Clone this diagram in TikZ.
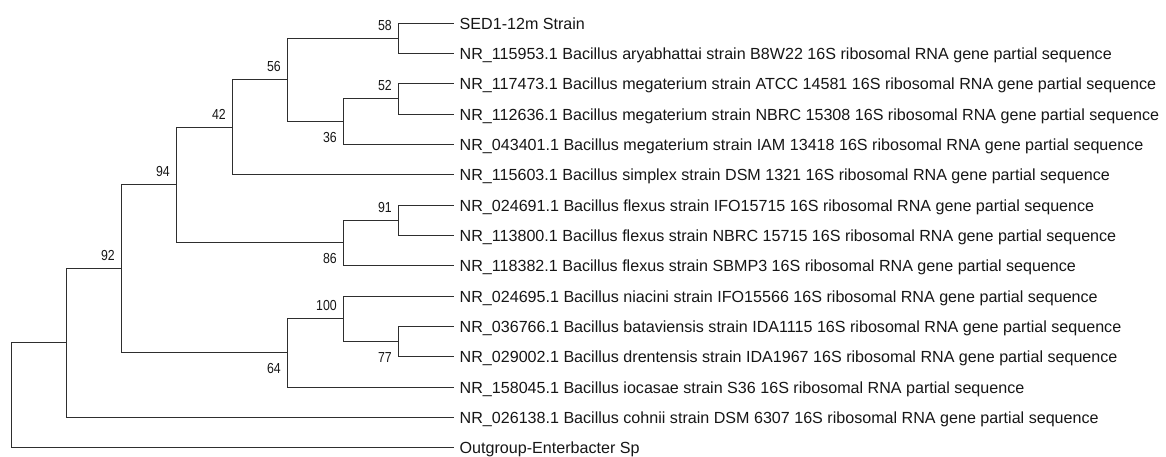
\documentclass[tikz,border=0pt]{standalone}
\usepackage{fontspec}
\setmainfont{Liberation Sans}
\newfontfamily\bootfont[FakeStretch=0.85]{Liberation Sans}
\definecolor{branchgray}{HTML}{2E2E2E}
\definecolor{textgray}{HTML}{161616}
\tikzset{
  branch/.style={draw=branchgray, line width=1.2pt},
  taxon/.style={anchor=west, inner xsep=6pt, inner ysep=0pt, text height=11.5pt,
    text depth=0pt, text=textgray, font=\fontsize{16.1}{18}\selectfont},
  boot/.style={anchor=east, inner sep=0pt, text height=10.4pt, text depth=0pt,
    text=textgray, font=\bootfont\fontsize{14.5}{16}\selectfont},
  bootup/.style={boot, shift={(-6.5,-13.3)}},
  bootdown/.style={boot, shift={(-6.5,15.6)}},
}
\begin{document}
\begin{tikzpicture}[x=1pt, y=-1pt]
    \useasboundingbox (0,0) rectangle (1166,456);
    % Tip line end and clade levels (kept on pixel centres)
    \def\lx{453.5}
    \def\xa{398.5} \def\xb{343.5} \def\xc{287.5} \def\xd{232.5}
    \def\xe{176.5} \def\xf{121.5} \def\xg{66.5}  \def\xh{11.5}
    % Taxa
    \node[taxon] (l1)  at (\lx, 23.5) {SED1-12m Strain};
    \node[taxon] (l2)  at (\lx, 53.5) {NR\_115953.1 Bacillus aryabhattai strain B8W22 16S ribosomal RNA gene partial sequence};
    \node[taxon] (l3)  at (\lx, 83.5) {NR\_117473.1 Bacillus megaterium strain ATCC 14581 16S ribosomal RNA gene partial sequence};
    \node[taxon] (l4)  at (\lx,114.5) {NR\_112636.1 Bacillus megaterium strain NBRC 15308 16S ribosomal RNA gene partial sequence};
    \node[taxon] (l5)  at (\lx,144.5) {NR\_043401.1 Bacillus megaterium strain IAM 13418 16S ribosomal RNA gene partial sequence};
    \node[taxon] (l6)  at (\lx,174.5) {NR\_115603.1 Bacillus simplex strain DSM 1321 16S ribosomal RNA gene partial sequence};
    \node[taxon] (l7)  at (\lx,205.5) {NR\_024691.1 Bacillus flexus strain IFO15715 16S ribosomal RNA gene partial sequence};
    \node[taxon] (l8)  at (\lx,235.5) {NR\_113800.1 Bacillus flexus strain NBRC 15715 16S ribosomal RNA gene partial sequence};
    \node[taxon] (l9)  at (\lx,265.5) {NR\_118382.1 Bacillus flexus strain SBMP3 16S ribosomal RNA gene partial sequence};
    \node[taxon] (l10) at (\lx,296.5) {NR\_024695.1 Bacillus niacini strain IFO15566 16S ribosomal RNA gene partial sequence};
    \node[taxon] (l11) at (\lx,326.5) {NR\_036766.1 Bacillus bataviensis strain IDA1115 16S ribosomal RNA gene partial sequence};
    \node[taxon] (l12) at (\lx,356.5) {NR\_029002.1 Bacillus drentensis strain IDA1967 16S ribosomal RNA gene partial sequence};
    \node[taxon] (l13) at (\lx,387.5) {NR\_158045.1 Bacillus iocasae strain S36 16S ribosomal RNA partial sequence};
    \node[taxon] (l14) at (\lx,417.5) {NR\_026138.1 Bacillus cohnii strain DSM 6307 16S ribosomal RNA gene partial sequence};
    \node[taxon] (l15) at (\lx,447.5) {Outgroup-Enterbacter Sp};
    % Internal nodes
    \coordinate (a58)  at (\xa, 38.5);
    \coordinate (a52)  at (\xa, 98.5);
    \coordinate (a36)  at (\xb,121.5);
    \coordinate (a56)  at (\xc, 79.5);
    \coordinate (a42)  at (\xd,127.5);
    \coordinate (a91)  at (\xa,220.5);
    \coordinate (a86)  at (\xb,242.5);
    \coordinate (a94)  at (\xe,184.5);
    \coordinate (a77)  at (\xa,341.5);
    \coordinate (a100) at (\xb,318.5);
    \coordinate (a64)  at (\xc,352.5);
    \coordinate (a92)  at (\xf,268.5);
    \coordinate (acoh) at (\xg,342.5);
    \coordinate (root) at (\xh,395.5);
    % Branches
    \draw[branch] (l1.west) -| (a58) |- (l2.west);
    \draw[branch] (l3.west) -| (a52) |- (l4.west);
    \draw[branch] (a52) -| (a36) |- (l5.west);
    \draw[branch] (a58) -| (a56) |- (a36);
    \draw[branch] (a56) -| (a42) |- (l6.west);
    \draw[branch] (l7.west) -| (a91) |- (l8.west);
    \draw[branch] (a91) -| (a86) |- (l9.west);
    \draw[branch] (a42) -| (a94) |- (a86);
    \draw[branch] (l11.west) -| (a77) |- (l12.west);
    \draw[branch] (l10.west) -| (a100) |- (a77);
    \draw[branch] (a100) -| (a64) |- (l13.west);
    \draw[branch] (a94) -| (a92) |- (a64);
    \draw[branch] (a92) -| (acoh) |- (l14.west);
    \draw[branch] (acoh) -| (root) |- (l15.west);
    % Bootstrap values
    \node[bootup]   (b58)  at (a58)  {58};
    \node[bootup]   (b52)  at (a52)  {52};
    \node[bootdown] (b36)  at (a36)  {36};
    \node[bootup]   (b56)  at (a56)  {56};
    \node[bootup]   (b42)  at (a42)  {42};
    \node[bootup]   (b94)  at (a94)  {94};
    \node[bootup]   (b92)  at (a92)  {92};
    \node[bootup]   (b91)  at (a91)  {91};
    \node[bootdown] (b86)  at (a86)  {86};
    \node[bootup]   (b100) at (a100) {100};
    \node[bootdown] (b77)  at (a77)  {77};
    \node[bootdown] (b64)  at (a64)  {64};
\end{tikzpicture}
\end{document}
